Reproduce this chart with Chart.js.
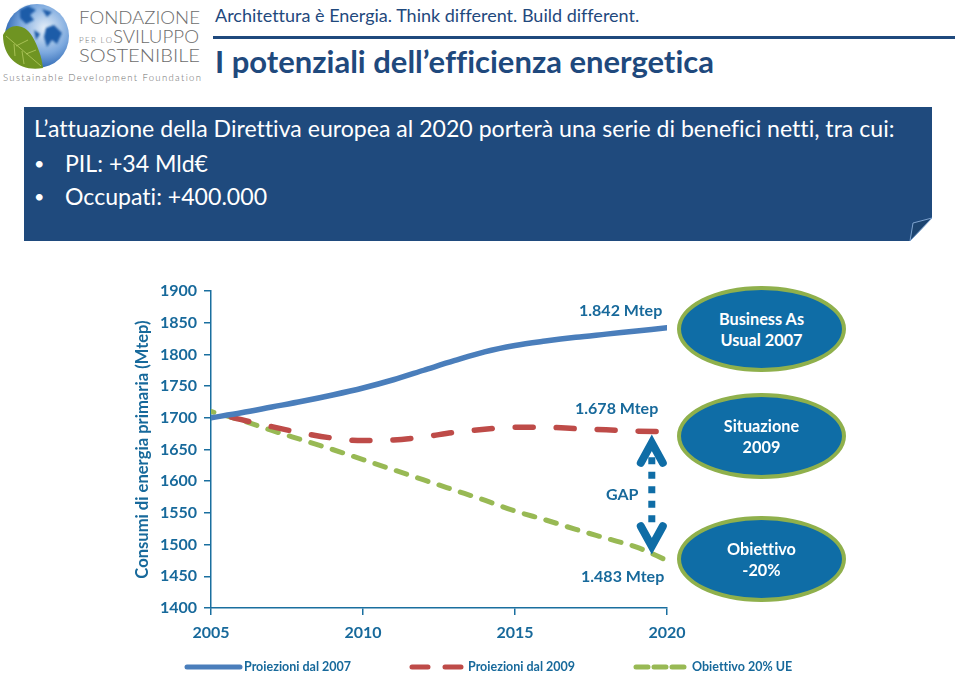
<!DOCTYPE html>
<html>
<head>
<meta charset="utf-8">
<script src="https://cdn.jsdelivr.net/npm/chart.js@4"></script>
<style>
html, body { margin: 0; padding: 0; background: #fff; width: 960px; height: 674px; overflow: hidden; font-family: Lato, sans-serif; font-variant-ligatures: none; }
#chart { position: absolute; left: 0; top: 0; }
.abs { position: absolute; white-space: nowrap; }
#tagline { left: 215px; top: 4px; font-size: 18px; color: #1f497d; }
#rule { left: 213px; top: 35.5px; width: 742px; height: 3px; background: #1f497d; }
#title { left: 215px; top: 42px; font-size: 31px; font-weight: 700; color: #1f497d; }
#box { left: 24px; top: 107px; width: 908px; height: 134px; }
.boxtext { color: #fff; font-size: 23.1px; }
.bullet { color: #fff; font-size: 18px; }
.pill { position: absolute; left: 677px; width: 169px; height: 86px; box-sizing: border-box; border: 4px solid #8fb04c; border-radius: 50%; background: #0f6da6; color: #fff; font-weight: 700; font-size: 16.3px; line-height: 21px; display: flex; align-items: center; justify-content: center; text-align: center; }
</style>
</head>
<body>
<svg class="abs" style="left:0;top:0" width="212" height="90">
  <defs>
    <radialGradient id="globe" cx="0.62" cy="0.38" r="0.7">
      <stop offset="0" stop-color="#e4eef8"/>
      <stop offset="0.55" stop-color="#7ba8de"/>
      <stop offset="1" stop-color="#1a57a8"/>
    </radialGradient>
    <filter id="soft"><feGaussianBlur stdDeviation="0.9"/></filter>
  </defs>
  <circle cx="37" cy="36" r="32" fill="url(#globe)"/>
  <path d="M20 10 L28 6 L36 10 L30 15 L34 20 L26 24 L20 18 Z M42 9 L52 12 L47 17 Z M46 28 L54 25 L62 33 L57 44 L52 40 L47 47 L44 37 Z M34 30 L40 34 L36 40 Z" fill="#1f5ca8" filter="url(#soft)"/>
  <path d="M3 35 C10 22 25 24 32 36 C38 46 42 58 43 68 C22 72 3 60 3 35 Z" fill="#6f9422"/>
  <path d="M6 36 L41 66 M14 44 L15 56 M22 51 L24 64 M16 46 L28 40 M26 54 L36 50" stroke="#b5cc62" stroke-width="0.8" fill="none"/>
  <g font-family="Lato" fill="#6c6c6c" font-weight="300">
    <text x="79" y="24" font-size="18" textLength="121" lengthAdjust="spacingAndGlyphs">FONDAZIONE</text>
    <text x="79" y="43" font-size="8" textLength="33">PER LO</text>
    <text x="113" y="43" font-size="18" textLength="86" lengthAdjust="spacingAndGlyphs">SVILUPPO</text>
    <text x="79" y="62" font-size="18" textLength="121" lengthAdjust="spacingAndGlyphs">SOSTENIBILE</text>
    <text x="3" y="81" font-size="9.5" textLength="198">Sustainable Development Foundation</text>
  </g>
</svg>
<div class="abs" id="tagline">Architettura è Energia. Think different. Build different.</div>
<div class="abs" id="rule"></div>
<div class="abs" id="title">I potenziali dell’efficienza energetica</div>
<svg class="abs" id="box" width="908" height="134">
  <path d="M0 0 H908 V111 L886 134 H0 Z" fill="#1f4a7d"/>
  <path d="M908 111 L889 116 L886 134 Z" fill="#1c4470" stroke="#7ea3cf" stroke-width="1"/>
</svg>
<div class="abs boxtext" style="left:34px;top:114px">L’attuazione della Direttiva europea al 2020 porterà una serie di benefici netti, tra cui:</div>
<div class="abs bullet" style="left:34px;top:152px">•</div>
<div class="abs boxtext" style="left:65px;top:149px">PIL: +34 Mld€</div>
<div class="abs bullet" style="left:34px;top:185px">•</div>
<div class="abs boxtext" style="left:65px;top:182px">Occupati: +400.000</div>

<canvas id="chart" width="960" height="674"></canvas>

<div class="pill" style="top:286px">Business As<br>Usual 2007</div>
<div class="pill" style="top:393px">Situazione<br>2009</div>
<div class="pill" style="top:516px">Obiettivo<br>-20%</div>

<script>
const years = [2005, 2006, 2007, 2008, 2009, 2010, 2011, 2012, 2013, 2014, 2015, 2016, 2017, 2018, 2019, 2020];
const proiezioni2007 = [1700, 1708, 1717, 1726, 1736, 1747, 1760, 1775, 1790, 1804, 1814, 1821, 1827, 1832, 1837, 1842];
const proiezioni2009 = [1710, 1697, 1686, 1676, 1668, 1664, 1665, 1670, 1677, 1682, 1685, 1685, 1683, 1681, 1679, 1678];
const obiettivo = [1710, 1696, 1680, 1665, 1650, 1634, 1618, 1602, 1586, 1570, 1553, 1539, 1524, 1510, 1496, 1475];
const seriesNames = ['Proiezioni dal 2007', 'Proiezioni dal 2009', 'Obiettivo 20% UE'];
const endLabels = ['1.842 Mtep', '1.678 Mtep', '1.483 Mtep'];
const gapYear = 2019.5;
const gapRange = [1670, 1488];

const axisColor = '#1a6f9f';
const textColor = '#17699b';
const blue = '#4a7ebb';
const red = '#be4b48';
const green = '#98b954';

function toPoints(values) {
    return values.map((v, i) => ({ x: years[i], y: v }));
}

// endpoint labels, GAP arrow and the bottom legend
const extras = {
    id: 'extras',
    afterDatasetsDraw(chart) {
        const c = chart.ctx;
        const xs = chart.scales.x;
        const ys = chart.scales.y;
        c.save();
        c.fillStyle = textColor;
        c.font = '700 16px Lato';
        c.textBaseline = 'middle';
        c.textAlign = 'left';
        c.fillText(endLabels[0], 579, 311);
        c.fillText(endLabels[1], 575, 409);
        c.fillText(endLabels[2], 581, 577);
        c.fillText('GAP', 606, 495);

        const ax = xs.getPixelForValue(gapYear);
        const top = ys.getPixelForValue(gapRange[0]);
        const bottom = ys.getPixelForValue(gapRange[1]);
        c.strokeStyle = '#0f6da6';
        c.lineWidth = 7;
        c.setLineDash([7, 7.5]);
        c.beginPath();
        c.moveTo(ax, top + 20.5);
        c.lineTo(ax, bottom - 28);
        c.stroke();
        c.setLineDash([]);
        c.lineCap = 'round';
        c.lineJoin = 'miter';
        c.lineWidth = 8;
        [[top, 1], [bottom, -1]].forEach(([tip, d]) => {
            c.beginPath();
            c.moveTo(ax - 11, tip + d * 26);
            c.lineTo(ax, tip + d * 6);
            c.lineTo(ax + 11, tip + d * 26);
            c.stroke();
        });

        const legendY = 667;
        const legend = [
            { x0: 187, x1: 240, tx: 244 },
            { x0: 412, x1: 462, tx: 468 },
            { x0: 636, x1: 686, tx: 692 }
        ];
        c.font = '700 12.5px Lato';
        chart.data.datasets.forEach((ds, i) => {
            const it = legend[i];
            c.strokeStyle = ds.borderColor;
            c.lineWidth = 5;
            c.lineCap = 'round';
            c.setLineDash(i === 0 ? [] : i === 1 ? [16, 17] : [12, 6]);
            c.beginPath();
            c.moveTo(it.x0, legendY);
            c.lineTo(it.x1, legendY);
            c.stroke();
            c.setLineDash([]);
            c.fillStyle = textColor;
            c.fillText(ds.label, it.tx, legendY);
        });
        c.restore();
    }
};

new Chart(document.getElementById('chart').getContext('2d'), {
    type: 'line',
    data: {
        datasets: [
            { label: seriesNames[0], data: toPoints(proiezioni2007), borderColor: blue, borderWidth: 5.5, borderCapStyle: 'round', pointRadius: 0, cubicInterpolationMode: 'monotone' },
            { label: seriesNames[1], data: toPoints(proiezioni2009), borderColor: red, borderWidth: 5.5, borderCapStyle: 'round', borderDash: [18, 23], borderDashOffset: 20, pointRadius: 0, cubicInterpolationMode: 'monotone' },
            { label: seriesNames[2], data: toPoints(obiettivo), borderColor: green, borderWidth: 5, borderCapStyle: 'round', borderDash: [11, 11.5], borderDashOffset: 8, pointRadius: 0, cubicInterpolationMode: 'monotone' }
        ]
    },
    options: {
        responsive: false,
        animation: false,
        layout: { padding: { left: 133, right: 293, top: 291, bottom: 30 } },
        plugins: { legend: { display: false }, tooltip: { enabled: false } },
        scales: {
            x: {
                type: 'linear',
                min: 2005,
                max: 2020,
                afterFit(scale) { scale.height = 36; },
                ticks: { stepSize: 5, color: textColor, font: { family: 'Lato', size: 16, weight: '700' }, padding: 8, maxRotation: 0, callback: v => String(v) },
                grid: { drawOnChartArea: false, color: axisColor, tickLength: 7, lineWidth: 1.5 },
                border: { color: axisColor, width: 1.5 }
            },
            y: {
                min: 1400,
                max: 1900,
                afterFit(scale) { scale.width = 78; },
                ticks: { stepSize: 50, color: textColor, font: { family: 'Lato', size: 16, weight: '700' }, padding: 7, callback: v => String(v) },
                grid: { drawOnChartArea: false, color: axisColor, tickLength: 7, lineWidth: 1.5 },
                border: { color: axisColor, width: 1.5 },
                title: { display: true, text: 'Consumi di energia primaria (Mtep)', color: textColor, font: { family: 'Lato', size: 16.6, weight: '700' }, padding: 0 }
            }
        }
    },
    plugins: [extras]
});
</script>
</body>
</html>
